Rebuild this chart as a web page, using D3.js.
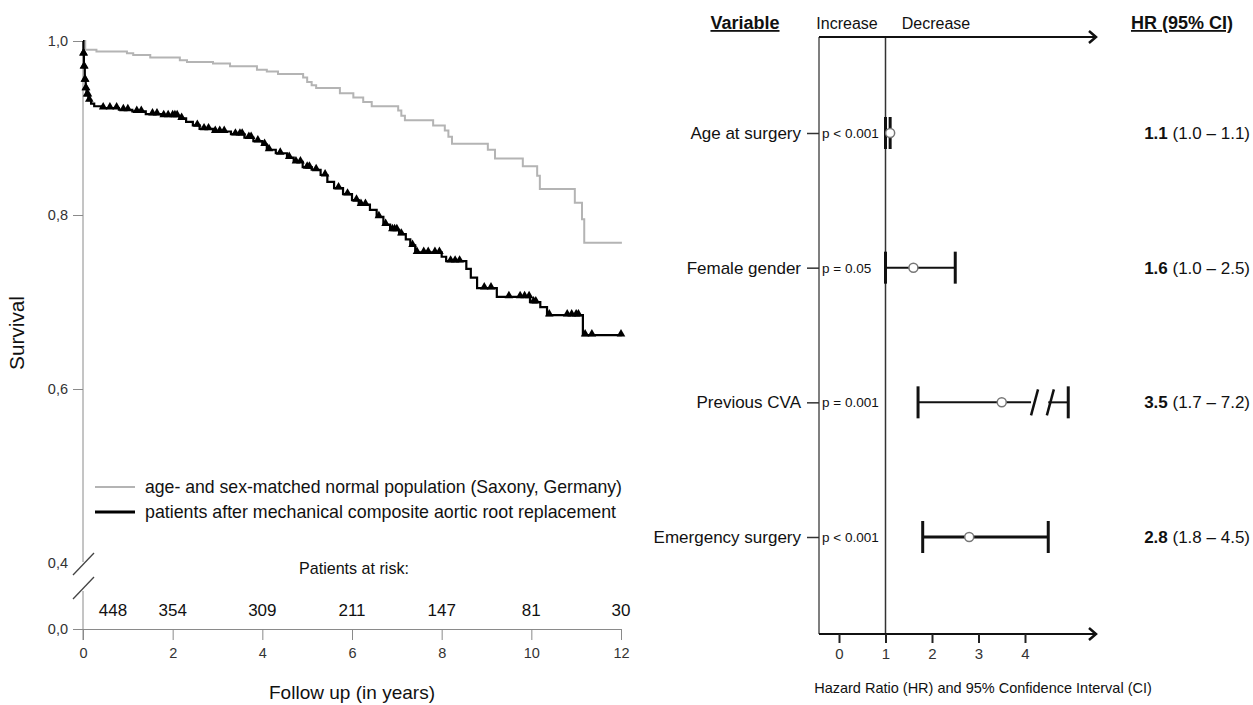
<!DOCTYPE html>
<html>
<head>
<meta charset="utf-8">
<script src="https://cdn.jsdelivr.net/npm/d3@7"></script>
<style>
  body { margin: 0; background: #fff; }
  svg { font-family: "Liberation Sans", Arial, Helvetica, sans-serif; }
</style>
</head>
<body>
<script>
// ---- Kaplan-Meier panel data (years, survival) ----
var popTime = [0, 0.05, 0.3, 0.98, 1.12, 1.5, 2.16, 2.32, 2.9, 3.28, 3.88, 4.1, 4.35, 4.91, 5.0, 5.1, 5.2, 5.73, 6.03, 6.25, 6.44, 7.03, 7.1, 7.18, 7.81, 8.07, 8.15, 8.23, 9.03, 9.19, 9.81, 10.13, 10.19, 10.97, 11.13, 11.18, 12.02];
var popSurv = [1.0, 0.990, 0.988, 0.986, 0.984, 0.981, 0.978, 0.976, 0.974, 0.971, 0.967, 0.965, 0.962, 0.958, 0.953, 0.949, 0.946, 0.940, 0.935, 0.930, 0.925, 0.920, 0.914, 0.909, 0.903, 0.897, 0.890, 0.882, 0.875, 0.865, 0.856, 0.845, 0.830, 0.814, 0.795, 0.768, 0.768];

var patTime = [0, 0.01, 0.02, 0.04, 0.06, 0.08, 0.12, 0.18, 0.25, 0.4, 0.8, 1.1, 1.4, 1.75, 2.15, 2.3, 2.45, 2.6, 2.9, 3.3, 3.6, 3.8, 4.0, 4.1, 4.3, 4.55, 4.7, 4.9, 5.1, 5.3, 5.45, 5.6, 5.8, 6.0, 6.15, 6.4, 6.55, 6.7, 6.85, 7.05, 7.2, 7.3, 7.41, 8.0, 8.1, 8.55, 8.65, 8.79, 9.23, 9.97, 10.2, 10.35, 11.15, 12.02];
var patSurv = [1.0, 0.985, 0.970, 0.955, 0.945, 0.938, 0.932, 0.928, 0.925, 0.923, 0.921, 0.919, 0.916, 0.914, 0.911, 0.907, 0.903, 0.899, 0.896, 0.893, 0.889, 0.885, 0.881, 0.875, 0.871, 0.866, 0.861, 0.855, 0.852, 0.846, 0.838, 0.831, 0.824, 0.817, 0.812, 0.806, 0.798, 0.789, 0.783, 0.778, 0.772, 0.765, 0.757, 0.752, 0.747, 0.738, 0.728, 0.716, 0.706, 0.700, 0.694, 0.685, 0.662, 0.662];

var censorTimes = [0.01, 0.015, 0.02, 0.03, 0.04, 0.05, 0.06, 0.07, 0.09, 0.11, 0.14,
  0.45, 0.6, 0.75, 0.9, 1.0, 1.2, 1.3, 1.55, 1.65, 1.8, 1.9, 2.0, 2.05, 2.1, 2.2,
  2.55, 2.7, 2.8, 2.95, 3.05, 3.15, 3.4, 3.5, 3.55, 3.7, 3.75, 3.9, 4.05, 4.15,
  4.4, 4.6, 4.75, 4.85, 5.0, 5.05, 5.2, 5.4, 5.7, 5.9, 6.1, 6.2, 6.3, 6.6, 6.75,
  6.9, 6.95, 7.0, 7.1, 7.35, 7.45, 7.6, 7.7, 7.85, 7.95, 8.2, 8.3, 8.4, 8.95, 9.1,
  9.5, 9.75, 9.85, 9.95, 10.05, 10.1, 10.4, 10.8, 10.9, 11.0, 11.05, 11.2, 11.35, 12.0];

var yTickValues = [0, 0.4, 0.6, 0.8, 1.0];
var yTickLabels = ["0,0", "0,4", "0,6", "0,8", "1,0"];
var xTickValues = [0, 2, 4, 6, 8, 10, 12];
var riskYears = [0, 2, 4, 6, 8, 10, 12];
var riskCounts = [448, 354, 309, 211, 147, 81, 30];
var legendLabels = ["age- and sex-matched normal population (Saxony, Germany)",
                    "patients after mechanical composite aortic root replacement"];

// ---- Forest plot data ----
var variables = ["Age at surgery", "Female gender", "Previous CVA", "Emergency surgery"];
var pLabels = ["p < 0.001", "p = 0.05", "p = 0.001", "p < 0.001"];
var hr = [1.1, 1.6, 3.5, 2.8];
var ciLow = [1.0, 1.0, 1.7, 1.8];
var ciHigh = [1.1, 2.5, 7.2, 4.5];
var hrTicks = [0, 1, 2, 3, 4];

var width = 1253, height = 705;
var svg = d3.select("body").append("svg").attr("width", width).attr("height", height);

// ================= left panel =================
var x = d3.scaleLinear().domain([0, 12]).range([83, 621]);
var y = d3.scaleLinear().domain([0, 0.4, 1]).range([629, 563, 41]);
var axisCol = "#8a8a8a";

var km = svg.append("g");

// y axis (broken)
var yAx = km.append("g").attr("transform", "translate(" + x(0) + ",0)")
  .call(d3.axisLeft(y).tickValues(yTickValues).tickSize(10).tickPadding(5)
    .tickFormat(function (d, i) { return yTickLabels[i]; }));
yAx.select(".domain").remove();
yAx.selectAll(".tick line").attr("stroke", axisCol)
  .filter(function (d) { return d === 0.4; }).remove();
yAx.selectAll(".tick text").attr("fill", "#333").style("font-size", "14.5px");

km.append("line").attr("x1", x(0)).attr("x2", x(0)).attr("y1", y(1)).attr("y2", y(0.4) - 1)
  .attr("stroke", axisCol);
km.append("line").attr("x1", x(0)).attr("x2", x(0)).attr("y1", y(0.4) + 28).attr("y2", y(0) + 11)
  .attr("stroke", axisCol);
[0, 24].forEach(function (off) {
  km.append("line")
    .attr("x1", x(0) - 10).attr("y1", y(0.4) + 12 + off)
    .attr("x2", x(0) + 11).attr("y2", y(0.4) - 10 + off)
    .attr("stroke", "#444").attr("stroke-width", 1.3);
});

// x axis
var xAx = km.append("g").attr("transform", "translate(0," + y(0) + ")")
  .call(d3.axisBottom(x).tickValues(xTickValues).tickSize(11).tickPadding(8));
xAx.select(".domain").attr("stroke", axisCol);
xAx.selectAll(".tick line").attr("stroke", axisCol);
xAx.selectAll(".tick text").attr("fill", "#333").style("font-size", "14.5px");

// curves
var stepLine = d3.line()
  .x(function (d) { return x(d[0]); })
  .y(function (d) { return y(d[1]); })
  .curve(d3.curveStepAfter);

km.append("path").datum(d3.zip(popTime, popSurv))
  .attr("d", stepLine).attr("fill", "none")
  .attr("stroke", "#b4b4b4").attr("stroke-width", 2);

km.append("path").datum(d3.zip(patTime, patSurv))
  .attr("d", stepLine).attr("fill", "none")
  .attr("stroke", "#000").attr("stroke-width", 2.2);

function survAt(t) {
  var i = d3.bisectRight(patTime, t) - 1;
  return patSurv[Math.max(0, i)];
}
var tri = d3.symbol().type(d3.symbolTriangle).size(32);
km.selectAll(".cens").data(censorTimes).enter().append("path")
  .attr("class", "cens")
  .attr("d", tri)
  .attr("transform", function (t) { return "translate(" + x(t) + "," + (y(survAt(t)) - 1) + ")"; })
  .attr("fill", "#000");

// axis titles
km.append("text").attr("x", (x(0) + x(12)) / 2).attr("y", 699)
  .attr("text-anchor", "middle").style("font-size", "19px").attr("fill", "#111")
  .attr("textLength", 166).attr("lengthAdjust", "spacingAndGlyphs")
  .text("Follow up (in years)");
km.append("text").attr("transform", "translate(24,333) rotate(-90)")
  .attr("text-anchor", "middle").style("font-size", "20px").attr("fill", "#111")
  .attr("textLength", 74).attr("lengthAdjust", "spacingAndGlyphs")
  .text("Survival");

// legend
var legCols = ["#b4b4b4", "#000"], legW = [2, 3], legLen = [477, 471];
legendLabels.forEach(function (lab, i) {
  var ly = 487 + i * 25;
  km.append("line").attr("x1", 95).attr("x2", 135).attr("y1", ly).attr("y2", ly)
    .attr("stroke", legCols[i]).attr("stroke-width", legW[i]);
  km.append("text").attr("x", 145).attr("y", ly + 6)
    .style("font-size", "18.5px").attr("fill", "#111")
    .attr("textLength", legLen[i]).attr("lengthAdjust", "spacingAndGlyphs")
    .text(lab);
});

// patients at risk
km.append("text").attr("x", 354).attr("y", 574).attr("text-anchor", "middle")
  .style("font-size", "17px").attr("fill", "#111")
  .attr("textLength", 110).attr("lengthAdjust", "spacingAndGlyphs")
  .text("Patients at risk:");
km.selectAll(".risk").data(riskCounts).enter().append("text")
  .attr("class", "risk")
  .attr("x", function (d, i) { return Math.max(x(riskYears[i]), x(0) + 30); })
  .attr("y", 616).attr("text-anchor", "middle")
  .style("font-size", "17px").attr("fill", "#111")
  .text(function (d) { return d; });

// ================= right panel (forest plot) =================
var fx = d3.scaleLinear().domain([0, 4]).range([839, 1025]);
var fy = d3.scalePoint().domain(variables).range([133, 537]);
var fTop = 37, fBot = 634, fLeft = 819, arrowEnd = 1096;
var fp = svg.append("g");

// frame lines
fp.append("line").attr("x1", fLeft).attr("x2", fLeft).attr("y1", fTop).attr("y2", fBot)
  .attr("stroke", "#555").attr("stroke-width", 1.5);
fp.append("line").attr("x1", fx(1)).attr("x2", fx(1)).attr("y1", fTop).attr("y2", fBot)
  .attr("stroke", "#333").attr("stroke-width", 1.5);

function arrow(yy) {
  fp.append("line").attr("x1", fLeft).attr("x2", arrowEnd).attr("y1", yy).attr("y2", yy)
    .attr("stroke", "#111").attr("stroke-width", 2);
  fp.append("path")
    .attr("d", "M" + (arrowEnd - 7) + "," + (yy - 6) + "L" + arrowEnd + "," + yy + "L" + (arrowEnd - 7) + "," + (yy + 6))
    .attr("fill", "none").attr("stroke", "#111").attr("stroke-width", 2.5);
}
arrow(fTop);
arrow(fBot);

// bottom HR axis
var hAx = fp.append("g").attr("transform", "translate(0," + fBot + ")")
  .call(d3.axisBottom(fx).tickValues(hrTicks).tickSize(9).tickPadding(5).tickFormat(d3.format("d")));
hAx.select(".domain").remove();
hAx.selectAll(".tick line").attr("stroke", "#222").attr("stroke-width", 2);
hAx.selectAll(".tick text").attr("fill", "#333").style("font-size", "15px");

fp.append("text").attr("x", 983).attr("y", 693).attr("text-anchor", "middle")
  .style("font-size", "14.5px").attr("fill", "#111")
  .text("Hazard Ratio (HR) and 95% Confidence Interval (CI)");

// row labels
var rAx = fp.append("g").attr("transform", "translate(" + fLeft + ",0)")
  .call(d3.axisLeft(fy).tickSize(12).tickPadding(6));
rAx.select(".domain").remove();
rAx.selectAll(".tick line").attr("stroke", "#333").attr("stroke-width", 1.5);
rAx.selectAll(".tick text").attr("fill", "#111").style("font-size", "17px");

// headers
function header(txt, cx, bold, size) {
  fp.append("text").attr("x", cx).attr("y", 29).attr("text-anchor", "middle")
    .style("font-size", size + "px").style("font-weight", bold ? "bold" : "normal")
    .style("text-decoration", bold ? "underline" : "none")
    .attr("fill", "#111").text(txt);
}
header("Variable", 745, true, 18);
header("Increase", 847, false, 16);
header("Decrease", 936, false, 16);
header("HR (95% CI)", 1182, true, 18);

// p values
fp.selectAll(".pv").data(pLabels).enter().append("text")
  .attr("class", "pv")
  .attr("x", fLeft + 3).attr("y", function (d, i) { return fy(variables[i]) + 5; })
  .style("font-size", "13.5px").attr("fill", "#111")
  .text(function (d) { return d; });

// confidence intervals
var axisMax = 4.6, brokenEnd = 4.93, lineW = [2, 2, 2, 3];
variables.forEach(function (v, i) {
  var cy = fy(v);
  var hi = ciHigh[i] > axisMax ? brokenEnd : ciHigh[i];
  var g = fp.append("g");
  if (ciHigh[i] > axisMax) {
    g.append("line").attr("x1", fx(ciLow[i])).attr("x2", fx(4.13)).attr("y1", cy).attr("y2", cy)
      .attr("stroke", "#111").attr("stroke-width", lineW[i]);
    g.append("line").attr("x1", fx(4.5)).attr("x2", fx(hi)).attr("y1", cy).attr("y2", cy)
      .attr("stroke", "#111").attr("stroke-width", lineW[i]);
    [4.13, 4.47].forEach(function (b) {
      g.append("line").attr("x1", fx(b)).attr("y1", cy + 13)
        .attr("x2", fx(b) + 7).attr("y2", cy - 13)
        .attr("stroke", "#111").attr("stroke-width", 2.5);
    });
  } else {
    g.append("line").attr("x1", fx(ciLow[i])).attr("x2", fx(hi)).attr("y1", cy).attr("y2", cy)
      .attr("stroke", "#111").attr("stroke-width", lineW[i]);
  }
  [ciLow[i], hi].forEach(function (e) {
    g.append("line").attr("x1", fx(e)).attr("x2", fx(e)).attr("y1", cy - 16).attr("y2", cy + 16)
      .attr("stroke", "#111").attr("stroke-width", 3);
  });
  g.append("circle").attr("cx", fx(hr[i])).attr("cy", cy).attr("r", 4.5)
    .attr("fill", "#fff").attr("stroke", "#777").attr("stroke-width", 1.5);

  var t = fp.append("text").attr("x", 1250).attr("y", cy + 6).attr("text-anchor", "end")
    .style("font-size", "17px").attr("fill", "#111");
  t.append("tspan").style("font-weight", "bold").text(hr[i].toFixed(1));
  t.append("tspan").text(" (" + ciLow[i].toFixed(1) + " \u2013 " + ciHigh[i].toFixed(1) + ")");
});
</script>
</body>
</html>
